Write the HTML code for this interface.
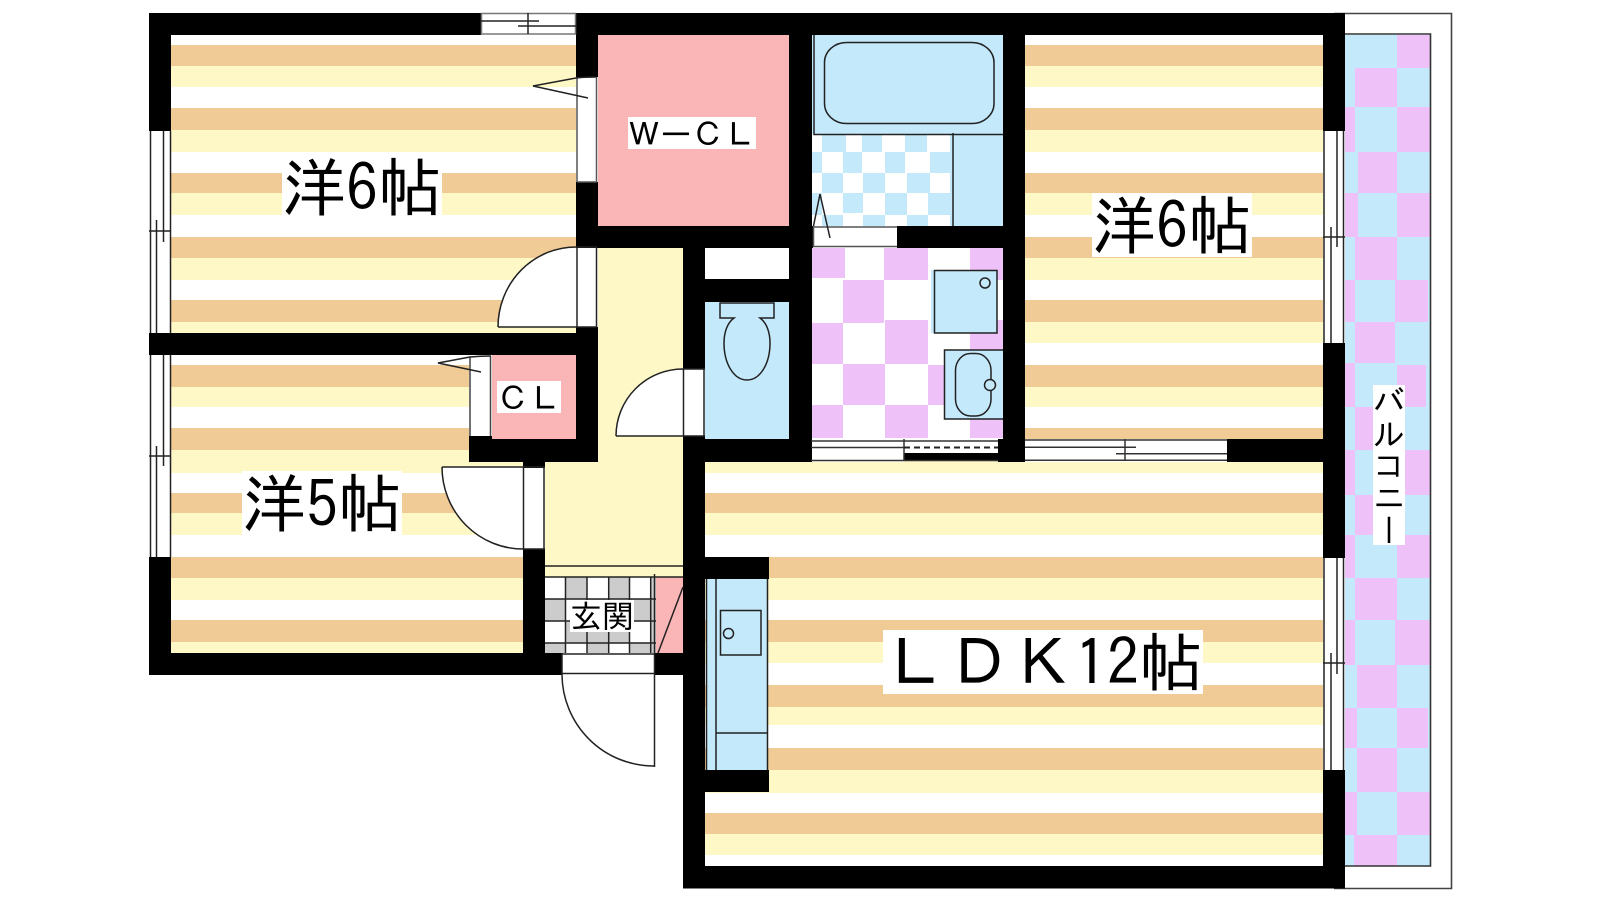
<!DOCTYPE html>
<html lang="ja">
<head>
<meta charset="utf-8">
<title>間取り図</title>
<style>
html,body{margin:0;padding:0;background:#fff;width:1600px;height:900px;overflow:hidden}
#w{position:relative;width:1600px;height:900px}
svg{position:absolute;left:0;top:0}
.t{position:absolute;background:#fff;color:#000;font-family:"IPAGothic","Liberation Sans","Noto Sans CJK JP",sans-serif;white-space:nowrap;text-align:left;overflow:hidden}
.b{font-size:64px;line-height:64px;height:64px}
.s{font-size:32px;line-height:32px;height:32px}
.v{font-size:32px;line-height:32px;width:32px;height:160px;writing-mode:vertical-rl}
</style>
</head>
<body>
<div id="w">
<svg width="1600" height="900" viewBox="0 0 1600 900" fill="none">
<!-- flooring bands -->
<rect x="171" y="35" width="1152" height="831" fill="#fff"/>
<g fill="#F0CB96">
<rect x="171" y="45" width="1152" height="21"/><rect x="171" y="108" width="1152" height="22"/><rect x="171" y="173" width="1152" height="20"/><rect x="171" y="237" width="1152" height="21"/><rect x="171" y="300" width="1152" height="22"/><rect x="171" y="365" width="1152" height="22"/><rect x="171" y="428" width="1152" height="22"/><rect x="171" y="493" width="1152" height="20"/><rect x="171" y="557" width="1152" height="21"/><rect x="171" y="620" width="1152" height="22"/><rect x="171" y="685" width="1152" height="22"/><rect x="171" y="748" width="1152" height="22"/><rect x="171" y="813" width="1152" height="21"/>
</g>
<g fill="#FEF8C6">
<rect x="171" y="66" width="1152" height="21"/><rect x="171" y="130" width="1152" height="22"/><rect x="171" y="193" width="1152" height="22"/><rect x="171" y="258" width="1152" height="22"/><rect x="171" y="322" width="1152" height="21"/><rect x="171" y="387" width="1152" height="20"/><rect x="171" y="450" width="1152" height="23"/><rect x="171" y="513" width="1152" height="22"/><rect x="171" y="578" width="1152" height="22"/><rect x="171" y="642" width="1152" height="21"/><rect x="171" y="707" width="1152" height="18"/><rect x="171" y="770" width="1152" height="23"/><rect x="171" y="834" width="1152" height="21"/>
</g>
<!-- exterior cover -->
<rect x="149" y="675" width="534" height="225" fill="#fff"/>
<!-- WCL + CL -->
<rect x="598" y="35" width="191" height="191" fill="#FAB5B7"/>
<rect x="492" y="355" width="84" height="84" fill="#FAB5B7"/>
<!-- corridor -->
<rect x="598" y="248" width="85" height="214" fill="#FEF8C6"/>
<rect x="545" y="462" width="138" height="115" fill="#FEF8C6"/>
<!-- genkan -->
<rect x="545" y="577" width="111" height="76" fill="#fff"/>
<g fill="#CCCCCC">
<rect x="566" y="577" width="21" height="22"/><rect x="609" y="577" width="21" height="22"/><rect x="651" y="577" width="5" height="76"/>
<rect x="545" y="599" width="21" height="22"/><rect x="587" y="599" width="22" height="22"/><rect x="630" y="599" width="21" height="22"/>
<rect x="566" y="621" width="21" height="22"/><rect x="587" y="621" width="22" height="22"/><rect x="609" y="621" width="21" height="22"/>
<rect x="545" y="643" width="21" height="10"/><rect x="587" y="643" width="22" height="10"/><rect x="630" y="643" width="21" height="10"/>
</g>
<rect x="656" y="577" width="27" height="76" fill="#FAB5B7"/>
<!-- bath -->
<rect x="812" y="35" width="191" height="191" fill="#fff"/>
<rect x="812" y="35" width="191" height="99" fill="#C4E9FB"/>
<rect x="950" y="134" width="53" height="92" fill="#C4E9FB"/>
<g fill="#C4E9FB">
<rect x="822" y="135" width="24" height="17"/><rect x="862" y="135" width="20" height="17"/><rect x="905" y="135" width="22" height="17"/>
<rect x="812" y="152" width="10" height="21"/><rect x="843" y="152" width="19" height="21"/><rect x="885" y="152" width="20" height="21"/><rect x="930" y="152" width="20" height="21"/>
<rect x="822" y="173" width="21" height="20"/><rect x="863" y="173" width="22" height="20"/><rect x="907" y="173" width="23" height="20"/>
<rect x="812" y="193" width="10" height="22"/><rect x="843" y="193" width="20" height="20"/><rect x="885" y="193" width="22" height="22"/><rect x="928" y="193" width="22" height="22"/>
<rect x="822" y="215" width="21" height="11"/><rect x="863" y="215" width="22" height="11"/><rect x="907" y="215" width="21" height="11"/>
</g>
<!-- washroom -->
<rect x="812" y="248" width="191" height="191" fill="#fff"/>
<g fill="#EEC2F8">
<rect x="812" y="248" width="33" height="30"/><rect x="884" y="248" width="44" height="32"/><rect x="970" y="248" width="33" height="32"/>
<rect x="843" y="280" width="41" height="43"/>
<rect x="812" y="323" width="31" height="41"/><rect x="885" y="320" width="43" height="44"/><rect x="970" y="320" width="33" height="44"/>
<rect x="843" y="364" width="42" height="41"/><rect x="928" y="365" width="42" height="40"/>
<rect x="812" y="405" width="31" height="33"/><rect x="885" y="405" width="43" height="33"/><rect x="970" y="405" width="33" height="33"/>
</g>
<!-- closet white + toilet -->
<rect x="705" y="248" width="84" height="31" fill="#fff"/>
<rect x="705" y="302" width="84" height="137" fill="#C4E9FB"/>
<!-- kitchen -->
<rect x="706" y="579" width="62" height="191" fill="#C4E9FB"/>
<!-- balcony -->
<rect x="1345" y="35" width="85" height="831" fill="#C4E9FB"/>
<g fill="#EEC2F8">
<rect x="1397" y="35" width="33" height="33"/><rect x="1355" y="68" width="42" height="39"/><rect x="1345" y="107" width="10" height="45"/><rect x="1397" y="107" width="33" height="45"/>
<rect x="1358" y="152" width="39" height="41"/><rect x="1345" y="193" width="13" height="44"/><rect x="1397" y="193" width="33" height="44"/>
<rect x="1355" y="237" width="42" height="43"/><rect x="1345" y="280" width="10" height="42"/><rect x="1395" y="280" width="33" height="42"/>
<rect x="1355" y="322" width="40" height="41"/><rect x="1345" y="363" width="10" height="44"/><rect x="1397" y="365" width="29" height="42"/>
<rect x="1355" y="407" width="42" height="43"/><rect x="1345" y="450" width="10" height="45"/><rect x="1397" y="450" width="33" height="45"/>
<rect x="1355" y="495" width="42" height="40"/><rect x="1345" y="535" width="10" height="43"/><rect x="1397" y="535" width="33" height="43"/>
<rect x="1355" y="578" width="42" height="42"/><rect x="1345" y="620" width="10" height="45"/><rect x="1395" y="620" width="35" height="45"/>
<rect x="1357" y="665" width="40" height="43"/><rect x="1345" y="708" width="12" height="40"/><rect x="1397" y="708" width="31" height="40"/>
<rect x="1357" y="748" width="40" height="44"/><rect x="1345" y="792" width="12" height="43"/><rect x="1397" y="792" width="33" height="43"/>
<rect x="1354" y="835" width="43" height="31"/>
</g>
<!-- balcony outlines -->
<path d="M1345 34H1430.500V866H1345" stroke="#333" stroke-width="1.600"/>
<path d="M1334 13.500H1451.500V888.500H1334" stroke="#444" stroke-width="1.600"/>

<!-- opening whites -->
<g fill="#fff">
<rect x="481" y="13" width="95" height="22"/>
<rect x="149" y="131" width="22" height="202"/>
<rect x="149" y="355" width="22" height="202"/>
<rect x="1323" y="131" width="22" height="212"/>
<rect x="1323" y="558" width="22" height="212"/>
<rect x="576" y="77" width="22" height="105"/>
<rect x="576" y="247" width="22" height="80"/>
<rect x="469" y="355" width="23" height="81"/>
<rect x="523" y="468" width="22" height="81"/>
<rect x="683" y="369" width="22" height="67"/>
<rect x="562" y="653" width="92" height="22"/>
<rect x="813" y="226" width="84" height="22"/>
<rect x="811" y="439" width="93" height="23"/>
<rect x="904" y="439" width="94" height="14"/>
<rect x="1025" y="439" width="202" height="23"/>
</g>

<!-- walls -->
<g fill="#000">
<rect x="149" y="13" width="332" height="22"/>
<rect x="576" y="13" width="769" height="22"/>
<rect x="149" y="13" width="22" height="118"/>
<rect x="149" y="333" width="449" height="22"/>
<rect x="149" y="557" width="22" height="118"/>
<rect x="149" y="653" width="413" height="22"/>
<rect x="654" y="653" width="29" height="22"/>
<rect x="576" y="13" width="22" height="64"/>
<rect x="576" y="182" width="22" height="65"/>
<rect x="576" y="327" width="22" height="135"/>
<rect x="576" y="226" width="237" height="22"/>
<rect x="897" y="226" width="128" height="22"/>
<rect x="789" y="13" width="23" height="449"/>
<rect x="1003" y="13" width="22" height="449"/>
<rect x="683" y="248" width="22" height="121"/>
<rect x="683" y="436" width="22" height="452"/>
<rect x="705" y="279" width="84" height="23"/>
<rect x="683" y="439" width="128" height="23"/>
<rect x="904" y="453" width="94" height="8"/>
<rect x="998" y="439" width="27" height="23"/>
<rect x="1227" y="439" width="118" height="23"/>
<rect x="1323" y="13" width="22" height="118"/>
<rect x="1323" y="343" width="22" height="215"/>
<rect x="1323" y="770" width="22" height="118.500"/>
<rect x="683" y="866" width="662" height="22.500"/>
<rect x="469" y="436" width="23" height="26"/>
<rect x="492" y="439" width="106" height="23"/>
<rect x="523" y="462" width="22" height="6"/>
<rect x="523" y="549" width="22" height="126"/>
<rect x="705" y="557" width="64" height="22"/>
<rect x="705" y="770" width="64" height="22"/>
</g>

<!-- door leaf sectors -->
<g fill="#fff">
<path d="M576 327H498A78 80 0 0 1 576 247Z"/>
<path d="M683 436H616A67 67 0 0 1 683 369Z"/>
<path d="M523 467H442A81 82 0 0 0 523 549Z"/>
</g>

<!-- line work -->
<g stroke="#222" stroke-width="1.500" fill="none">
<!-- top window -->
<rect x="481.500" y="13.500" width="94" height="20.500" stroke="#777"/>
<path d="M481 21H539M518 26H576M528 13V34"/>
<!-- left windows -->
<path d="M150.500 131V333M156.500 220V333M163.500 131V242M170.500 131V333M149 231H171"/>
<path d="M150.500 355V557M156.500 446V557M163.500 355V466M170.500 355V557M149 456H171"/>
<!-- right windows -->
<path d="M1324 131V343M1331 227V343M1337 131V247M1343.500 131V343M1323 237H1345"/>
<path d="M1324 558V770M1331 653V770M1337 558V674M1343.500 558V770M1323 663H1345"/>
<!-- bottom windows -->
<path d="M1025 440H1227M1025 447.300H1136M1116 453.700H1227M1025 460.300H1227M1125 439V461" stroke="#333"/>
<path d="M811 441H998M811 447.500H904M811 460.500H998M904 439V461" stroke="#333"/>
<path d="M904 447.500H998" stroke-dasharray="6 4" stroke-width="2"/>
<!-- doors -->
<path d="M577 77V182M596.500 77V182M577 182H597" stroke="#555"/>
<path d="M596 77Q584 77 576 78L533 86L588 98"/>
<path d="M498 327A78 80 0 0 1 576 247H597M498 327H597M577 247V327M596.500 247V327"/>
<path d="M470 357V436M490.500 356V436" stroke="#444"/>
<path d="M491 356Q480 356 470 357L438 363L481 372"/>
<path d="M442 467H545M442 467A81 82 0 0 0 523 549H545M523.500 467V549M544 467V549"/>
<path d="M616 436A67 67 0 0 1 683 369H705M616 436H705M683.500 369V436M704 369V436"/>
<path d="M562 654H654M562 673.500H654M562 653V675"/>
<path d="M562 675A92 92 0 0 0 654 766"/>
<path d="M654.500 574V767"/>
<path d="M813 227H897M813 246.500H897" stroke="#555"/>
<path d="M813.500 226L820 194L830 238"/>
<path d="M813.500 226V247" stroke="#555"/>
<!-- genkan -->
<path d="M545 566H683M545 577H683M565.500 577V653M587 577V653M608.700 577V653M629.500 577V653M650.700 577V653M545 599H656M545 621H656M545 643H656"/>
<path d="M658 653L683 587"/>
<!-- bath -->
<path d="M814 35V134.500H1003M953 133V226"/>
<rect x="824.500" y="42.500" width="169.500" height="81" rx="22" ry="20"/>
<!-- toilet -->
<path d="M720 303H774V318H760C767 323 770 333 770 343C770 364 760 380 747 380C734 380 724 364 724 343C724 333 727 323 734 318H720Z"/>
<!-- washer -->
<rect x="931" y="270" width="66" height="63" fill="#C4E9FB" stroke="none"/>
<rect x="934.500" y="270.500" width="62.500" height="62.500" fill="#C4E9FB"/>
<circle cx="985" cy="283" r="5"/>
<!-- basin -->
<path d="M1003 350H944.500V419H1003" fill="#C4E9FB"/>
<rect x="955.500" y="353.500" width="35.500" height="62.500" rx="15" ry="17"/>
<circle cx="990" cy="385" r="5.500" fill="#C4E9FB"/>
<!-- kitchen -->
<path d="M706.500 579V770M716 579V770M767.500 579V770M716 733H767.500"/>
<rect x="720.500" y="610.500" width="40.500" height="44.500"/>
<circle cx="728.500" cy="633.500" r="5"/>
</g>
</svg>

<div class="t b" style="left:282px;top:155px;width:160px">洋6帖</div>
<div class="t b" style="left:1092px;top:193px;width:160px">洋6帖</div>
<div class="t b" style="left:242px;top:471px;width:160px">洋5帖</div>
<div class="t b" style="left:883px;top:630px;width:320px">ＬＤＫ12帖</div>
<div class="t s" style="left:628px;top:117px;width:128px;line-height:34px">ＷーＣＬ</div>
<div class="t s" style="left:497px;top:381px;width:64px;line-height:35px">ＣＬ</div>
<div class="t s" style="left:570px;top:600px;width:64px">玄関</div>
<div class="t v" style="left:1373px;top:385px">バルコニー</div>
</div>
</body>
</html>
